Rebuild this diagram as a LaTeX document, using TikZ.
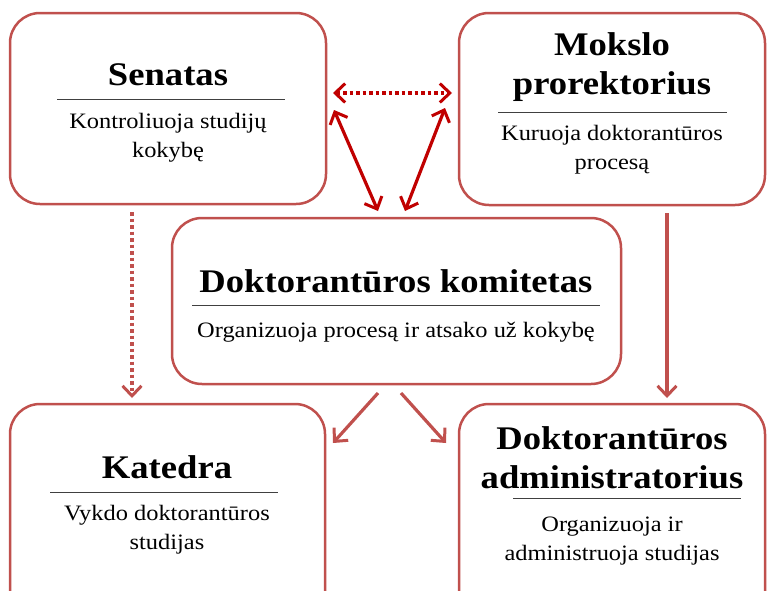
\documentclass[tikz,border=0pt]{standalone}
\usepackage{fontspec}
\setmainfont{Liberation Serif}[FakeStretch=1.11]
\usetikzlibrary{arrows.meta}
\definecolor{boxred}{RGB}{192,80,77}
\definecolor{darkred}{RGB}{192,0,0}
\tikzstyle{orgbox} = [draw=boxred, line width=2.5pt, rounded corners=30pt, fill=white]
\tikzstyle{titletext} = [font=\fontsize{33}{39}\selectfont\bfseries, anchor=base, align=center, inner sep=0pt]
\tikzstyle{subtext} = [font=\fontsize{22}{29}\selectfont, anchor=base, align=center, inner sep=0pt]
\tikzstyle{sepline} = [draw=black!75, line width=1pt]
\tikzstyle{dots} = [dash pattern=on 3.5pt off 3pt]
\tikzstyle{link} = [draw=boxred, line width=3.2pt, -{Straight Barb[length=10pt,width=19pt,line width=3pt]}]
\tikzstyle{biglink} = [draw=darkred, line width=3.2pt, {Straight Barb[length=10pt,width=19pt,line width=3pt]}-{Straight Barb[length=10pt,width=19pt,line width=3pt]}]

\begin{document}
\begin{tikzpicture}[x=1pt,y=-1pt]
\useasboundingbox (0,0) rectangle (768,590);
\clip (0,0) rectangle (768,590);

\node[orgbox, minimum width=316pt, minimum height=191pt] (senatas) at (168,108.5) {};
\node[orgbox, minimum width=306pt, minimum height=192pt] (prorekt) at (612,109) {};
\node[orgbox, minimum width=449pt, minimum height=166pt] (komitet) at (396.5,301) {};
\node[orgbox, minimum width=315pt, minimum height=220pt] (katedra) at (167.5,514) {};
\node[orgbox, minimum width=306pt, minimum height=220pt] (admin) at (612,514) {};

% multi-line texts sit on the baseline of their last line
\node[titletext] (senatas-t) at (168,85) {Senatas};
\node[subtext] (senatas-s) at (168,157) {Kontroliuoja studijų\\kokybę};
\draw[sepline] (57,99) -- (285,99);

\node[titletext] (prorekt-t) at (612,94) {Mokslo\\prorektorius};
\node[subtext] (prorekt-s) at (612,169) {Kuruoja doktorantūros\\procesą};
\draw[sepline] (498,112) -- (727,112);

\node[titletext] (komitet-t) at (396,292) {Doktorantūros komitetas};
\node[subtext] (komitet-s) at (396,337) {Organizuoja procesą ir atsako už kokybę};
\draw[sepline] (192,305) -- (600,305);

\node[titletext] (katedra-t) at (167,478) {Katedra};
\node[subtext] (katedra-s) at (167,549) {Vykdo doktorantūros\\studijas};
\draw[sepline] (50,492) -- (278,492);

\node[titletext] (admin-t) at (612,488) {Doktorantūros\\administratorius};
\node[subtext] (admin-s) at (612,560) {Organizuoja ir\\administruoja studijas};
\draw[sepline] (513,498) -- (741,498);

\coordinate (d1) at (333,93);
\coordinate (d2) at (452,93);
\coordinate (l1) at (334,110);
\coordinate (l2) at (378,211);
\coordinate (r1) at (445,108);
\coordinate (r2) at (405,211);
\coordinate (s1) at (132,212);
\coordinate (s2) at (132,398);
\coordinate (p1) at (667,213);
\coordinate (p2) at (667,398);
\coordinate (k1) at (378,393);
\coordinate (k2) at (333,443);
\coordinate (k3) at (401,393);
\coordinate (k4) at (446,443);

\draw[biglink, dots] (d1) -- (d2);
\draw[biglink] (l1) -- (l2);
\draw[biglink] (r1) -- (r2);
\draw[link, dots] (s1) -- (s2);
\draw[link] (p1) -- (p2);
\draw[link] (k1) -- (k2);
\draw[link] (k3) -- (k4);
\end{tikzpicture}
\end{document}
